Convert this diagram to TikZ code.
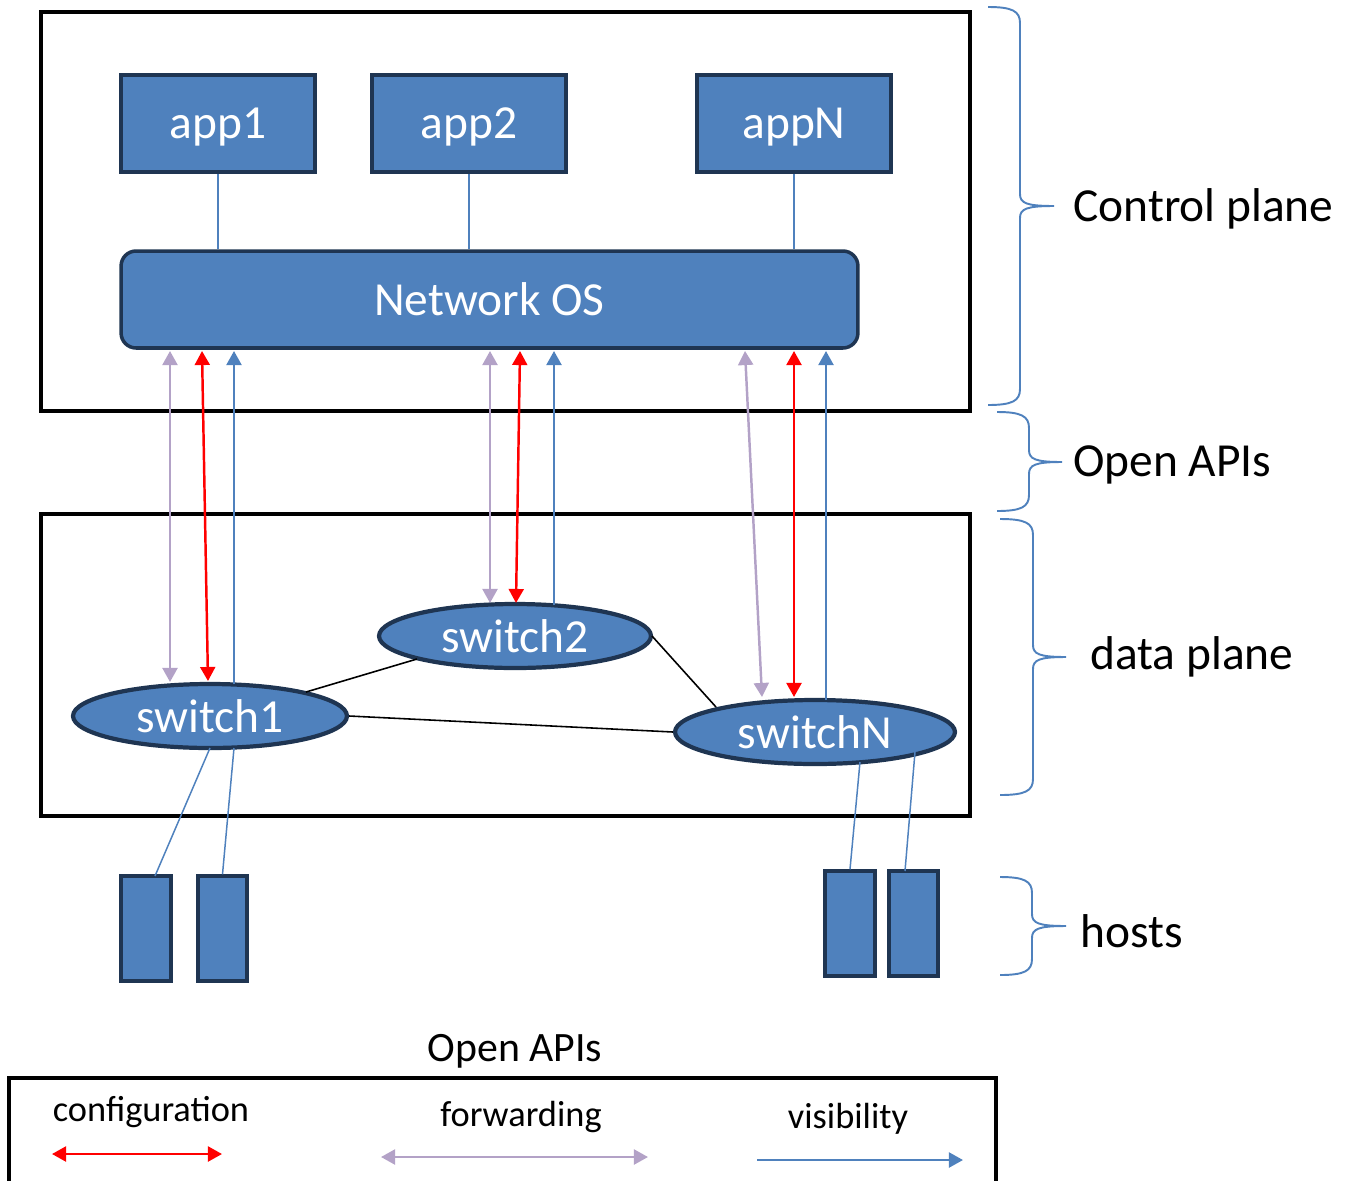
\documentclass[tikz,border=0pt]{standalone}
\usepackage{fontspec}
\setmainfont{Carlito}
\usetikzlibrary{arrows.meta,shapes.geometric}
\definecolor{nblue}{HTML}{4F81BD}
\definecolor{nborder}{HTML}{1F3552}
\definecolor{lav}{HTML}{B3A2C7}
\definecolor{cred}{HTML}{FF0000}
\newcommand\sdnbrace[6]{%
  \draw[bracestyle] (#1,#4) .. controls ({#2-8},#4) and (#2,{#4+4}) .. (#2,{#4+16})
    -- (#2,{#5-12}) .. controls (#2,{#5-3}) and ({#2+6},#5) .. (#3,#5)
    .. controls ({#2+6},#5) and (#2,{#5+3}) .. (#2,{#5+12})
    -- (#2,{#6-16}) .. controls (#2,{#6-4}) and ({#2-8},#6) .. (#1,#6);}
\tikzset{
  frame/.style={draw=black,line width=2.3pt},
  appbox/.style={draw=nborder,fill=nblue,line width=2pt,text=white,
    minimum width=3.88cm,minimum height=1.94cm,inner sep=0pt,
    font=\fontsize{27}{32}\selectfont},
  osbox/.style={appbox,rounded corners=0.3cm,minimum width=14.74cm},
  swnode/.style={ellipse,draw=nborder,fill=nblue,line width=2.4pt,text=white,
    minimum height=1.28cm,inner sep=0pt,font=\fontsize{27}{32}\selectfont},
  hostbox/.style={draw=nborder,fill=nblue,line width=2pt,minimum width=1cm,
    minimum height=2.1cm,inner sep=0pt},
  thinblue/.style={draw=nblue,line width=0.85pt},
  link/.style={draw=black,line width=0.9pt},
  cfg/.style={draw=cred,line width=1.4pt,{Triangle[length=8pt,width=8.5pt]}-{Triangle[length=8pt,width=8.5pt]}},
  fwd/.style={draw=lav,line width=1.4pt,{Triangle[length=8pt,width=8.5pt]}-{Triangle[length=8pt,width=8.5pt]}},
  vis/.style={draw=nblue,line width=1.4pt,-{Triangle[length=8pt,width=8.5pt]}},
  bracestyle/.style={draw=nblue,line width=1.1pt},
  lbl/.style={anchor=west,font=\fontsize{27}{32}\selectfont,inner sep=0pt},
  leg/.style={font=\fontsize{20.7}{25}\selectfont,inner sep=0pt},
}
\begin{document}
\begin{tikzpicture}[x=0.02cm,y=-0.02cm]
\useasboundingbox (0,0) rectangle (1352,1180);
\clip (0,0) rectangle (1352,1180);
% frames
\draw[frame] (41,12) rectangle (970,411);
\draw[frame] (41,514) rectangle (970,816);
% apps and OS
\node[appbox,text depth=0pt] (app1) at (218,123.5) {app1};
\node[appbox,text depth=0pt] (app2) at (469,123.5) {app2};
\node[appbox,text depth=0pt] (appN) at (794,123.5) {appN};
\node[osbox] (os) at (489.5,299.5) {Network OS};
\draw[thinblue] (app1.south) -- (app1.south |- os.north);
\draw[thinblue] (app2.south) -- (app2.south |- os.north);
\draw[thinblue] (appN.south) -- (appN.south |- os.north);
% switches
\node[swnode,minimum width=5.48cm] (s1) at (210,716) {switch1};
\node[swnode,minimum width=5.44cm] (s2) at (515,636) {switch2};
\node[swnode,minimum width=5.6cm] (sN) at (815,732) {switchN};
\coordinate (p1) at (306,692); \coordinate (p2) at (417,659);
\coordinate (p3) at (652,636); \coordinate (p4) at (716,707);
\draw[link] (p1) -- (p2);
\draw[link] (s1.east) -- (sN.west);
\draw[link] (p3) -- (p4);
% hosts
\node[hostbox] (h1) at (146,928.5) {};
\node[hostbox,minimum width=0.98cm] (h2) at (222.5,928.5) {};
\node[hostbox] (h3) at (850,923.5) {};
\node[hostbox,minimum width=0.98cm] (h4) at (913.5,923.5) {};
\coordinate (q1) at (210,748); \coordinate (h1t) at (155,876);
\coordinate (q2) at (234,748);
\coordinate (q3) at (860,762); \coordinate (q4) at (915,752);
\coordinate (h4t) at (905,871);
\draw[thinblue] (q1) -- (h1t);
\draw[thinblue] (q2) -- (h2.north);
\draw[thinblue] (q3) -- (h3.north);
\draw[thinblue] (q4) -- (h4t);
% control arrows, switch1
\coordinate (a1) at (170,351); \coordinate (b1) at (170,682);
\coordinate (a2) at (202,351); \coordinate (b2) at (208,681);
\coordinate (a3) at (234,351); \coordinate (b3) at (234,684);
\draw[fwd] (a1) -- (b1);
\draw[cfg] (a2) -- (b2);
\draw[vis] (b3) -- (a3);
% switch2
\coordinate (c1) at (490,351); \coordinate (d1) at (490,603);
\coordinate (c2) at (520,351); \coordinate (d2) at (516,603);
\coordinate (c3) at (554,351); \coordinate (d3) at (554,605);
\draw[fwd] (c1) -- (d1);
\draw[cfg] (c2) -- (d2);
\draw[vis] (d3) -- (c3);
% switchN
\coordinate (e1) at (745,351); \coordinate (f1) at (762,697);
\coordinate (e2) at (794,351); \coordinate (f2) at (794,697);
\coordinate (e3) at (826,351); \coordinate (f3) at (826,700);
\draw[fwd] (e1) -- (f1);
\draw[cfg] (e2) -- (f2);
\draw[vis] (f3) -- (e3);
% braces
\sdnbrace{988}{1020}{1054}{7}{206}{405}
\sdnbrace{997}{1029}{1062}{412}{462}{511}
\sdnbrace{1000}{1033}{1066}{519}{657}{795}
\sdnbrace{1000}{1032}{1066}{877}{926}{975}
\node[lbl] (lcp) at (1073,209) {Control plane};
\node[lbl] (lapi) at (1073,465) {Open APIs};
\node[lbl] (ldp) at (1090,657) {data plane};
\node[lbl] (lh) at (1080,931) {hosts};
% legend
\node[font=\fontsize{23.8}{28}\selectfont,inner sep=0pt] (legt) at (515,1051) {Open APIs};
\draw[frame] (9,1078) rectangle (996,1220);
\node[leg] (lcfg) at (151,1112) {configuration};
\node[leg] (lfwd) at (521,1117) {forwarding};
\node[leg] (lvis) at (848,1119) {visibility};
\coordinate (g1) at (52,1154); \coordinate (g2) at (222,1154);
\coordinate (g3) at (381,1157); \coordinate (g4) at (648,1157);
\coordinate (g5) at (757,1160); \coordinate (g6) at (963,1160);
\draw[cfg] (g1) -- (g2);
\draw[fwd] (g3) -- (g4);
\draw[vis] (g5) -- (g6);
\end{tikzpicture}
\end{document}
